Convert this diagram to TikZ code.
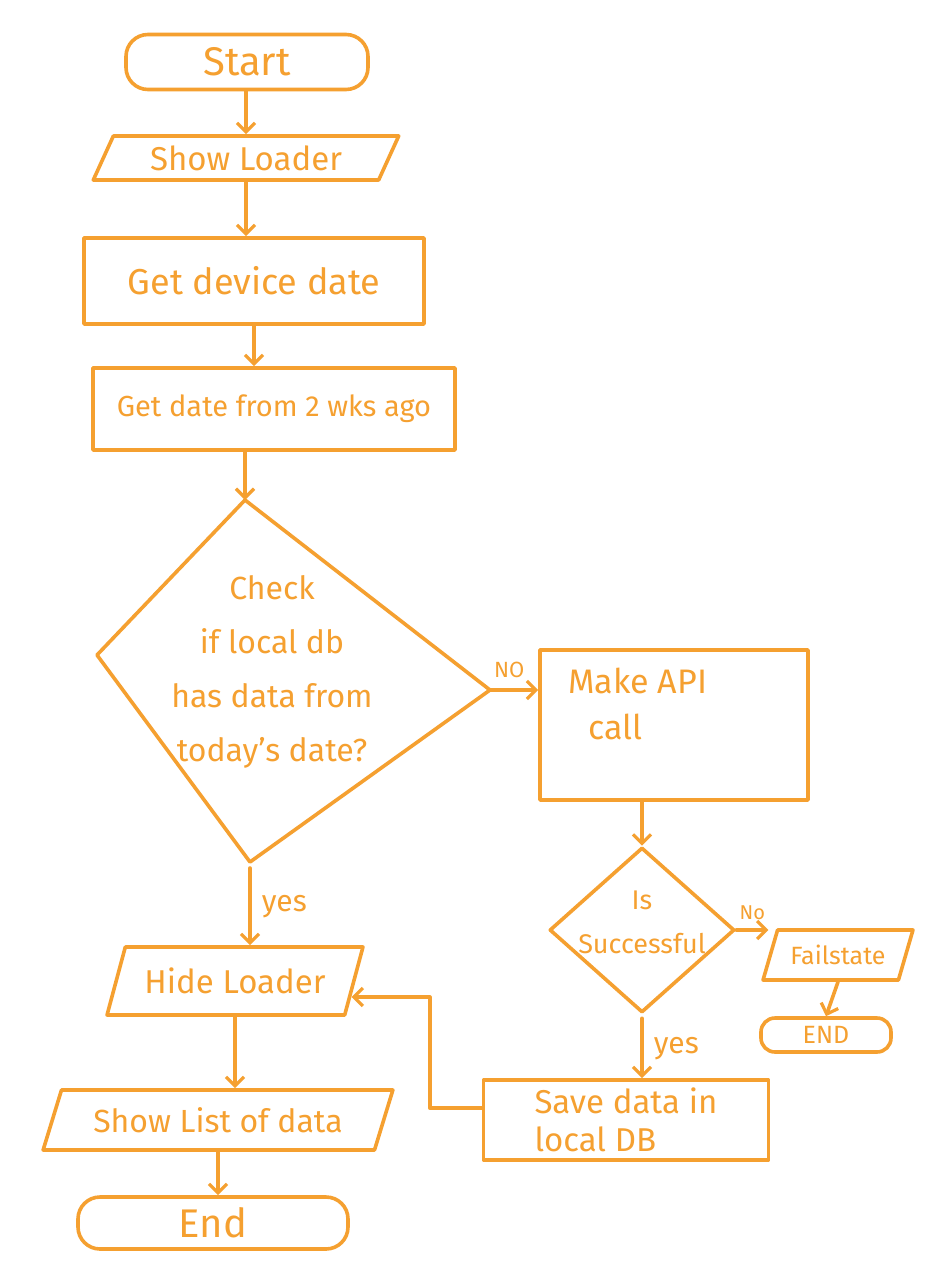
\documentclass[tikz,border=0pt]{standalone}
\usepackage{fontspec}
\setmainfont{Fira Sans}
\usetikzlibrary{shapes.geometric,shapes.misc,arrows.meta,calc}
\definecolor{ink}{HTML}{F5A030}
\newcommand{\fs}[2]{\fontsize{#1}{#2}\selectfont}
\tikzset{
  base/.style={draw=ink,line width=3.6pt,line join=round,line cap=round,text=ink,inner sep=0pt},
  term/.style={base,rectangle,rounded corners=22pt},
  iobox/.style={base,trapezium,trapezium left angle=60,trapezium right angle=120,trapezium stretches=true},
  procbox/.style={base,rectangle},
  decbox/.style={base,diamond},
  txt/.style={text=ink,inner sep=0pt,align=center},
  arr/.style={draw=ink,line width=3.6pt,line cap=round,line join=round,-{Straight Barb[length=9pt,width=18pt,line width=3.2pt]}},
  lbl/.style={text=ink,inner sep=0pt}
}
\begin{document}
\begin{tikzpicture}[x=1pt,y=-1pt]
\useasboundingbox[fill=white] (0,0) rectangle (926,1278);

\node[term,minimum width=242pt,minimum height=55pt,font=\fs{40}{46}] (start) at (247,62) {Start};
\node[iobox,minimum width=306pt,minimum height=44pt,font=\fs{33}{38}] (show) at (246,158) {Show Loader};
\node[procbox,minimum width=340pt,minimum height=86pt,font=\fs{36}{42}] (getdev) at (254,281) {Get device date};
\node[procbox,minimum width=362pt,minimum height=82pt,font=\fs{29}{34}] (get2) at (274,409) {Get date from 2 wks ago};
% decision diamond drawn from its four named corners
\coordinate (ct) at (245,500);
\coordinate (cr) at (490,690);
\coordinate (cb) at (250,862);
\coordinate (cl) at (97,655);
\draw[base] (ct) -- (cr) -- (cb) -- (cl) -- cycle;
\node[txt,font=\fs{32}{54}] (checktxt) at (272,672) {Check\\if local db\\has data from\\today's date?};
\node[procbox,minimum width=268pt,minimum height=150pt] (make) at (674,725) {};
\node[txt,align=left,anchor=north west,font=\fs{34}{46}] (maketxt) at (568,668) {Make API\\\hspace{20pt}call};
\node[decbox,minimum width=185pt,minimum height=165pt] (succ) at (642,930) {};
\node[txt,font=\fs{27}{44}] (succtxt) at (642,922) {Is\\Successful};
\node[iobox,minimum width=150pt,minimum height=50pt,font=\fs{25}{30}] (fail) at (838,955) {Failstate};
\node[term,minimum width=130pt,minimum height=34pt,rounded corners=14pt,font=\fs{25}{30}] (endsmall) at (826,1035) {END};
\node[procbox,minimum width=285pt,minimum height=80pt,align=left,font=\fs{33}{38}] (save) at (626,1120) {Save data in\\local DB};
\node[iobox,minimum width=256pt,minimum height=68pt,font=\fs{33}{38}] (hide) at (235,981) {Hide Loader};
\node[iobox,minimum width=350pt,minimum height=60pt,font=\fs{32}{36}] (showlist) at (218,1120) {Show List of data};
\node[term,minimum width=270pt,minimum height=52pt,font=\fs{40}{46}] (endbig) at (213,1223) {End};

\draw[arr] (start.south -| show.north) -- (show.north);
\draw[arr] (show.south) -- (show.south |- getdev.north);
\draw[arr] (getdev.south) -- (getdev.south |- get2.north);
\draw[arr] (get2.south -| ct) -- (ct);
\draw[arr] (cr) -- (cr -| make.west) node[lbl,pos=0.4,above=10pt,font=\fs{22}{26}] (no1) {NO};
\draw[arr] (make.south -| succ.north) -- (succ.north);
\draw[arr] (succ.east) -- (fail.west |- succ.east) node[lbl,midway,above=8pt,font=\fs{20}{24}] (no2) {No};
\draw[arr] (fail.south) -- (endsmall.north);
\draw[arr] ([yshift=-4pt]succ.south) -- (succ.south |- save.north) node[lbl,midway,right=10pt,font=\fs{30}{34}] (yes2) {yes};
\draw[arr] ([yshift=-6pt]cb) -- (cb |- hide.north) node[lbl,midway,right=10pt,font=\fs{30}{34}] (yes1) {yes};
\draw[arr] (hide.south) -- (hide.south |- showlist.north);
\draw[arr] (showlist.south) -- (showlist.south |- endbig.north);
\coordinate (bend) at ($(save.west)+(-52,-12)$);
\draw[arr] ([yshift=12pt]save.west) -- (bend) |- ([yshift=-16pt,xshift=-4pt]hide.east);
\end{tikzpicture}
\end{document}
